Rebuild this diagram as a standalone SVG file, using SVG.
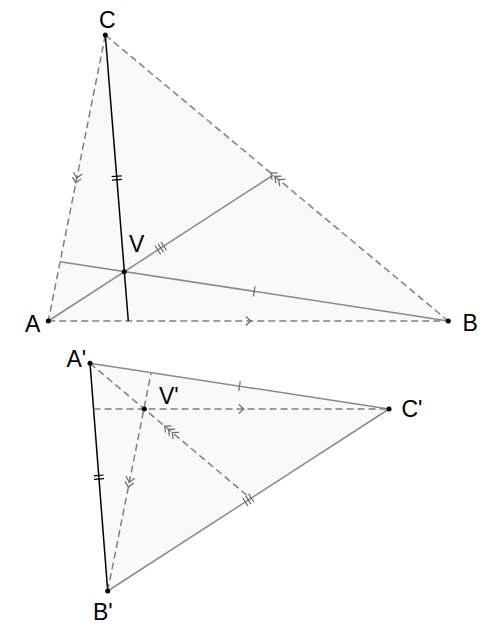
<svg xmlns="http://www.w3.org/2000/svg" xmlns:xlink="http://www.w3.org/1999/xlink" width="500" height="629" viewBox="0 0 500 629">
<style>
.fill{fill:#f9f9f9;stroke:none}
.dash{fill:none;stroke:#808080;stroke-width:1.5;stroke-dasharray:7,4}
.gray{fill:none;stroke:#8a8a8a;stroke-width:1.5}
.black{fill:none;stroke:#000;stroke-width:1.5}
.mk{fill:none;stroke:#6a6a6a;stroke-width:1.2}
.mkb{fill:none;stroke:#000;stroke-width:1.2}
.pt{fill:#000}
.lbl{font-family:"Liberation Sans",Arial,sans-serif;font-size:23px;fill:#000}
</style>
<defs>
<path id="t1" d="M0,-5V5"/>
<path id="t2" d="M-1.8,-5V5M1.8,-5V5"/>
<path id="t3" d="M-3.5,-5V5M0,-5V5M3.5,-5V5"/>
<path id="c1" d="M-2.5,-4.5L2.5,0L-2.5,4.5"/>
<path id="c2" d="M-5,-4.5L0,0L-5,4.5M0,-4.5L5,0L0,4.5"/>
<path id="c3" d="M-7.5,-4.5L-2.5,0L-7.5,4.5M-2.5,-4.5L2.5,0L-2.5,4.5M2.5,-4.5L7.5,0L2.5,4.5"/>
</defs>
<g id="fills">
<polygon class="fill" points="48.3,321 448.3,321 105.3,35"/>
<polygon class="fill" points="90,363.3 389,409 107.7,591"/>
</g>
<g id="connectors">
<line class="dash" x1="48.3" y1="321" x2="448.3" y2="321"/>
<line class="dash" x1="105.3" y1="35" x2="48.3" y2="321"/>
<line class="dash" x1="105.3" y1="35" x2="448.3" y2="321"/>
<line class="gray" x1="48.3" y1="321" x2="273.3" y2="175"/>
<line class="gray" x1="448.3" y1="321" x2="60" y2="261.7"/>
<line class="black" x1="105.3" y1="35" x2="128.3" y2="321"/>
<line class="black" x1="90" y1="363.3" x2="107.7" y2="591"/>
<line class="gray" x1="90" y1="363.3" x2="389" y2="409"/>
<line class="gray" x1="107.7" y1="591" x2="389" y2="409"/>
<line class="dash" x1="93.6" y1="409" x2="389" y2="409"/>
<line class="dash" x1="90" y1="363.3" x2="250.7" y2="498.5"/>
<line class="dash" x1="107.7" y1="591" x2="151" y2="373.3"/>
<g class="mk">
<use href="#c1" transform="translate(248.3,321)"/>
<use href="#c2" transform="translate(76.8,178) rotate(101.27)"/>
<use href="#c3" transform="translate(276.8,178) rotate(-140.18)"/>
<use href="#t3" transform="translate(160.8,248) rotate(-32.94)"/>
<use href="#t1" transform="translate(254.2,291.4) rotate(8.7)"/>
<use href="#t1" transform="translate(239.5,386.2) rotate(8.69)"/>
<use href="#t3" transform="translate(248.35,500) rotate(-32.9)"/>
<use href="#c1" transform="translate(241.3,409)"/>
<use href="#c3" transform="translate(170.35,430.9) rotate(-139.9)"/>
<use href="#c2" transform="translate(129.35,482.2) rotate(101.25)"/>
</g>
<g class="mkb">
<use href="#t2" transform="translate(116.8,178) rotate(85.4)"/>
<use href="#t2" transform="translate(98.85,477.2) rotate(85.55)"/>
</g>
</g>
<g id="A"><circle class="pt" cx="48.3" cy="321" r="2.5"/><text class="lbl" x="25" y="332">A</text></g>
<g id="B"><circle class="pt" cx="448.3" cy="321" r="2.5"/><text class="lbl" x="462.5" y="331">B</text></g>
<g id="C"><circle class="pt" cx="105.3" cy="35" r="2.5"/><text class="lbl" x="99" y="28">C</text></g>
<g id="V"><circle class="pt" cx="124.3" cy="271.7" r="2.5"/><text class="lbl" x="129" y="252">V</text></g>
<g id="A2"><circle class="pt" cx="90" cy="363.3" r="2.5"/><text class="lbl" x="66.5" y="367">A'</text></g>
<g id="B2"><circle class="pt" cx="107.7" cy="591" r="2.5"/><text class="lbl" x="93" y="620">B'</text></g>
<g id="C2"><circle class="pt" cx="389" cy="409" r="2.5"/><text class="lbl" x="401.5" y="416.5">C'</text></g>
<g id="V2"><circle class="pt" cx="144.3" cy="409" r="2.5"/><text class="lbl" x="159" y="404">V'</text></g>
</svg>
